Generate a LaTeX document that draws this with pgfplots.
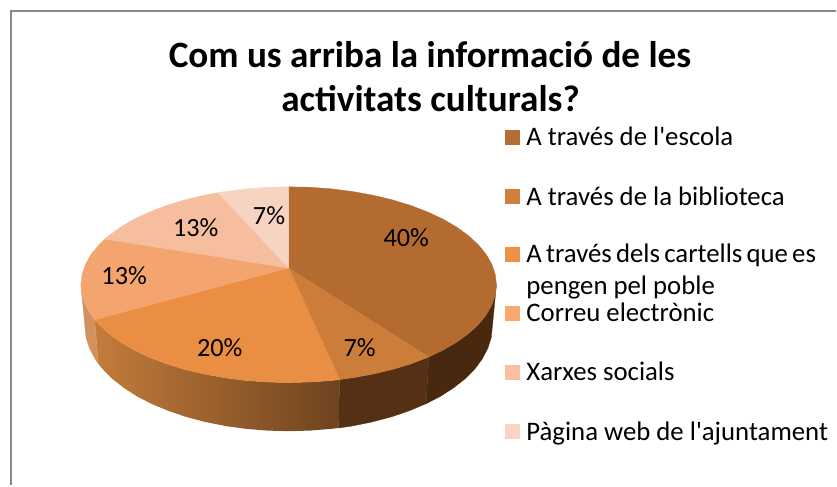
\documentclass[border=0pt]{standalone}
\usepackage{fontspec}
\setmainfont{Carlito}
\newfontfamily\plainfont{Carlito}
\usepackage{pgfplots}
\pgfplotsset{compat=1.18}
\definecolor{c1}{HTML}{B36B30}
\definecolor{c2}{HTML}{CD7D3A}
\definecolor{c3}{HTML}{E98E42}
\definecolor{c4}{HTML}{F4A56F}
\definecolor{c5}{HTML}{F6BD9E}
\definecolor{c6}{HTML}{F7D3C2}
\definecolor{l1}{HTML}{B56D33}
\definecolor{l2}{HTML}{D07F3C}
\definecolor{l3}{HTML}{EC9145}
\definecolor{l4}{HTML}{F9A870}
\definecolor{l5}{HTML}{F9BFA0}
\definecolor{l6}{HTML}{F9D4C3}
\definecolor{s1}{HTML}{48290F}
\definecolor{s2}{HTML}{563015}
\definecolor{s3l}{HTML}{C47C3A}
\definecolor{s3r}{HTML}{6E431F}
\definecolor{s4}{HTML}{D2925F}
\definecolor{frame}{HTML}{888888}
\newcommand\lgd[1]{\hspace*{4pt}\rule[-9pt]{0pt}{26pt}#1}
\begin{document}
\begin{tikzpicture}
\begin{axis}[
  scale only axis, width=837pt, height=486pt,
  xmin=0, xmax=837, ymin=0, ymax=486, y dir=reverse,
  hide axis, clip=false,
  legend image code/.code={\fill[draw=none,#1] (0pt,-7.5pt) rectangle (15pt,7.5pt);},
  legend cell align=left,
  legend style={at={(axis cs:506,125.5)}, anchor=north west, draw=none, fill=none,
    inner sep=0pt, outer sep=0pt, row sep=35.1pt, nodes={inner sep=2pt},
    font=\fontsize{26.8}{32}\selectfont\plainfont},
]
% invisible page-size frame
\addplot[draw=none, forget plot] coordinates {(0,0)(837,486)};
% chart frame
\addplot[draw=frame, line width=2pt, forget plot] coordinates {(11,486)(11,11)(837,11)};

% side: 40% slice
\addplot[fill=s1, draw=s1, line width=0.3pt, forget plot] coordinates {
(497,285)(495.9,295.2)(492.4,305.4)(486.8,315.3)(479,324.9)(469.1,334)(457.3,342.6)(443.6,350.6)(429.3,357.4)
(426.6,404.2)(440.6,397)(454,388.4)(465.7,379.2)(475.4,369.4)(483,359.1)(488.5,348.5)(491.9,337.7)(493,326.7)(497,285)};
% side: 7% slice
\addplot[fill=s2, draw=s2, line width=0.3pt, forget plot] coordinates {
(429.3,357.4)(411.3,364.3)(393,369.9)(373.6,374.5)(353.3,378.2)(340,380)
(339,428.5)(352,426.6)(372,422.6)(391,417.6)(408.9,411.6)(426.6,404.2)(429.3,357.4)};
% side: 20% slice
\addplot[left color=s3l, right color=s3r, draw=none, forget plot] coordinates {
(340,380)(332.2,380.9)(310.7,382.5)(289,383)(267.3,382.5)(245.8,380.9)(224.7,378.2)(204.4,374.5)(185,369.9)(166.7,364.3)(149.8,357.8)(134.4,350.6)(120.7,342.6)(108.9,334)(99,324.9)(94.8,320.1)
(98.5,364.3)(102.6,369.4)(112.3,379.2)(124,388.4)(137.4,397)(152.5,404.7)(169.1,411.6)(187,417.6)(206,422.6)(226,426.6)(246.6,429.4)(267.7,431.1)(289,431.7)(310.3,431.1)(331.4,429.4)(339,428.5)(340,380)};
% side: 13% slice (visible part)
\addplot[fill=s4, draw=s4, line width=0.3pt, forget plot] coordinates {
(94.8,320.1)(91.2,315.3)(85.6,305.4)(82.1,295.2)(81,285)
(85,326.7)(86.1,337.7)(89.5,348.5)(95,359.1)(98.5,364.3)(94.8,320.1)};

% top: 40%
\addplot[fill=c1, draw=c1, line width=0.3pt, forget plot] coordinates {
(289,268.3)(289,187)(310.7,187.5)(332.2,189.1)(353.3,191.8)(373.6,195.5)(393,200.1)(411.3,205.7)(428.2,212.2)(443.6,219.4)(457.3,227.4)(469.1,236)(479,245.1)(486.8,254.7)(492.4,264.6)(495.9,274.8)(497,285)(495.9,295.2)(492.4,305.4)(486.8,315.3)(479,324.9)(469.1,334)(457.3,342.6)(443.6,350.6)(429.3,357.4)(289,268.3)};
% top: 7%
\addplot[fill=c2, draw=c2, line width=0.3pt, forget plot] coordinates {
(289,268.3)(429.3,357.4)(411.3,364.3)(393,369.9)(373.6,374.5)(353.3,378.2)(340,380)(289,268.3)};
% top: 20%
\addplot[fill=c3, draw=c3, line width=0.3pt, forget plot] coordinates {
(289,268.3)(340,380)(332.2,380.9)(310.7,382.5)(289,383)(267.3,382.5)(245.8,380.9)(224.7,378.2)(204.4,374.5)(185,369.9)(166.7,364.3)(149.8,357.8)(134.4,350.6)(120.7,342.6)(108.9,334)(99,324.9)(94.8,320.1)(289,268.3)};
% top: 13%
\addplot[fill=c4, draw=c4, line width=0.3pt, forget plot] coordinates {
(289,268.3)(94.8,320.1)(91.2,315.3)(85.6,305.4)(82.1,295.2)(81,285)(82.1,274.8)(85.6,264.6)(91.2,254.7)(99,245.1)(105,239.3)(289,268.3)};
% top: 13%
\addplot[fill=c5, draw=c5, line width=0.3pt, forget plot] coordinates {
(289,268.3)(105,239.3)(108.9,236)(120.7,227.4)(134.4,219.4)(149.8,212.2)(166.7,205.7)(185,200.1)(204.4,195.5)(218.2,192.9)(289,268.3)};
% top: 7%
\addplot[fill=c6, draw=c6, line width=0.3pt, forget plot] coordinates {
(289,268.3)(218.2,192.9)(224.7,191.8)(245.8,189.1)(267.3,187.5)(289,187)(289,268.3)};

% legend
\addlegendimage{fill=l1}\addlegendentry{\lgd{A través de l'escola}}
\addlegendimage{fill=l2}\addlegendentry{\lgd{A través de la biblioteca}}
\addlegendimage{fill=l3}\addlegendentry{\lgd{\smash{\parbox[t]{290pt}{A través dels cartells que es\\pengen pel poble}}}}
\addlegendimage{fill=l4}\addlegendentry{\lgd{Correu electrònic}}
\addlegendimage{fill=l5}\addlegendentry{\lgd{Xarxes socials}}
\addlegendimage{fill=l6}\addlegendentry{\lgd{Pàgina web de l'ajuntament}}

% data labels
\node[font=\fontsize{26.3}{28}\selectfont] at (axis cs:406.7,238.3) {40\%};
\node[font=\fontsize{26.3}{28}\selectfont] at (axis cs:360,347.7) {7\%};
\node[font=\fontsize{26.3}{28}\selectfont] at (axis cs:220,347.7) {20\%};
\node[font=\fontsize{26.3}{28}\selectfont] at (axis cs:124.3,276) {13\%};
\node[font=\fontsize{26.3}{28}\selectfont] at (axis cs:196,228.3) {13\%};
\node[font=\fontsize{26.3}{28}\selectfont] at (axis cs:269.3,216) {7\%};

% title
\node[font=\fontsize{37.2}{44}\selectfont\bfseries, anchor=base] at (axis cs:430.5,68) {Com us arriba la informació de les};
\node[font=\fontsize{37.2}{44}\selectfont\bfseries, anchor=base] at (axis cs:431,112) {activitats culturals?};
\end{axis}
\end{tikzpicture}
\end{document}
